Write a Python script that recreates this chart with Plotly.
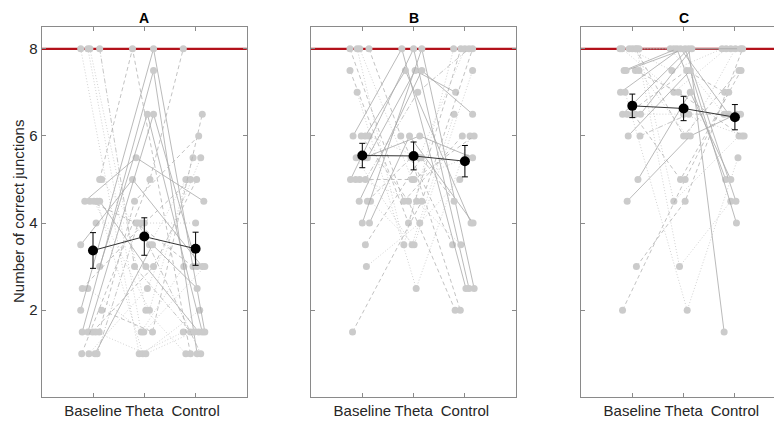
import plotly.graph_objects as go

conditions = ["Baseline", "Theta", "Control"]
panel_titles = ["A", "B", "C"]
y_ticks = [2, 4, 6, 8]
ceiling = 8

# ---- Panel A: individual participants (Baseline, Theta, Control) ----
A_base = [8, 8, 8, 8, 5, 5, 4.5, 4.5, 4.5, 4.5, 4.5, 4, 3.5, 3, 2.5, 2.5, 2, 2, 1.5, 1.5, 1.5, 1.5, 1.5, 1, 1, 1, 1]
A_theta = [1, 1.5, 2, 3, 8, 3.5, 5.5, 4, 2, 1, 3, 4, 5, 6.5, 4, 1.5, 8, 1.5, 7.5, 6.5, 3, 1, 4.5, 5, 2.5, 3.5, 4]
A_ctrl = [1.5, 3, 1, 1.5, 1, 5, 4.5, 3, 5.5, 2, 1.5, 4, 3, 1.5, 5, 3, 1.5, 6.5, 1, 3, 5, 1.5, 6, 8, 5.5, 2.5, 1]
A_jit_base = [-0.24, -0.10, -0.06, 0.13, 0.13, 0.17, -0.16, -0.06, 0.02, 0.08, 0.13, 0.06, -0.24, 0.13, -0.21, -0.10, -0.24, 0.17, -0.21, -0.10, -0.01, 0.05, 0.12, -0.22, -0.08, 0.04, 0.08]
A_jit_theta = [-0.10, -0.06, 0.03, -0.19, -0.23, 0.10, -0.16, -0.16, 0.10, -0.03, 0.03, -0.06, -0.23, 0.06, 0.0, -0.01, 0.18, 0.16, 0.18, 0.18, 0.18, 0.03, -0.19, 0.11, 0.06, 0.16, -0.12]
A_jit_ctrl = [-0.24, -0.23, -0.19, -0.10, -0.10, -0.19, 0.16, -0.05, -0.05, 0.08, 0.06, 0.0, 0.13, 0.13, -0.10, 0.18, 0.18, 0.13, 0.03, 0.03, 0.02, -0.03, 0.06, -0.24, 0.10, 0.03, 0.10]
A_styles = ["o", "o", "o", "x", "d", "o", "s", "d", "o", "o", "s", "o", "s", "s", "d", "o", "s", "d", "s", "s", "d", "o", "d", "d", "o", "s", "x"]
A_mean = [3.37, 3.69, 3.41]
A_err = [0.41, 0.43, 0.38]

# ---- Panel B ----
B_base = [8, 8, 8, 8, 7.5, 7, 6, 6, 6, 6, 5.5, 5.5, 5.5, 5, 5, 5, 5, 4.5, 4.5, 4.5, 4, 4, 3.5, 3, 1.5]
B_theta = [4.5, 3.5, 5, 6, 4, 2.5, 8, 7.5, 5.5, 4.5, 7.5, 3.5, 6, 8, 5, 4.5, 7, 7.5, 5.5, 3.5, 8, 6, 5.5, 4, 4.5]
B_ctrl = [6, 8, 5.5, 3.5, 8, 6, 2.5, 4, 8, 2, 7, 6.5, 5.5, 2.5, 6, 3.5, 8, 6.5, 2, 7.5, 2.5, 4, 4.5, 5, 8]
B_jit_base = [-0.24, -0.10, -0.05, 0.13, -0.24, -0.10, -0.18, 0.06, 0.13, -0.02, 0.10, -0.12, 0.04, -0.23, -0.13, -0.05, 0.06, -0.06, 0.10, 0.16, 0.0, 0.14, 0.06, 0.08, -0.19]
B_jit_theta = [-0.19, -0.19, -0.03, -0.25, -0.10, 0.05, -0.23, -0.16, 0.10, -0.10, 0.03, -0.03, 0.12, 0.0, 0.01, 0.06, 0.08, 0.16, -0.05, 0.01, 0.16, -0.08, 0.15, 0.12, 0.16]
B_jit_ctrl = [-0.05, -0.22, 0.04, -0.24, -0.08, 0.10, 0.02, 0.12, 0.0, -0.19, -0.18, -0.21, 0.15, 0.08, 0.18, -0.08, 0.08, 0.15, -0.09, 0.15, 0.18, 0.16, -0.21, -0.10, 0.15]
B_styles = ["d", "o", "o", "d", "d", "o", "s", "s", "o", "d", "s", "o", "s", "s", "d", "o", "x", "s", "d", "o", "s", "s", "d", "o", "d"]
B_mean = [5.55, 5.54, 5.42]
B_err = [0.28, 0.32, 0.36]

# ---- Panel C ----
C_base = [8, 8, 8, 8, 8, 8, 8, 7.5, 7.5, 7.5, 7.5, 7, 7, 6.5, 6.5, 6.5, 6.5, 6.5, 6, 6, 5, 4.5, 3, 2]
C_theta = [8, 7.5, 8, 6, 4.5, 7, 3, 8, 7, 6, 8, 8, 2, 8, 7.5, 6.5, 8, 5, 7.5, 6.5, 7, 6, 4.5, 5]
C_ctrl = [8, 8, 6.5, 7.5, 6, 8, 4.5, 5, 6, 8, 4.5, 6.5, 5.5, 1.5, 7, 6, 8, 7.5, 4, 6.5, 5, 6.5, 8, 7]
C_jit_base = [-0.24, -0.06, 0.0, 0.06, 0.13, -0.20, 0.09, -0.16, 0.06, 0.13, -0.12, -0.23, -0.14, -0.19, -0.10, 0.06, 0.16, 0.02, -0.08, 0.15, 0.11, -0.10, 0.08, -0.19]
C_jit_theta = [-0.19, -0.23, -0.26, 0.0, -0.19, -0.19, -0.08, -0.13, -0.10, 0.06, 0.03, -0.06, 0.07, 0.10, 0.06, 0.0, 0.16, -0.06, 0.13, 0.10, 0.13, 0.13, 0.03, 0.03]
C_jit_ctrl = [-0.08, -0.25, -0.21, 0.08, 0.08, -0.17, -0.08, -0.18, 0.14, 0.01, 0.02, -0.12, 0.06, -0.21, -0.20, 0.18, 0.11, 0.12, 0.03, 0.11, -0.08, 0.03, 0.15, -0.12]
C_styles = ["s", "o", "o", "d", "o", "o", "o", "s", "d", "o", "s", "s", "o", "s", "d", "o", "s", "d", "s", "x", "s", "s", "d", "d"]
C_mean = [6.69, 6.63, 6.43]
C_err = [0.27, 0.28, 0.29]

panels = [
    (A_base, A_theta, A_ctrl, A_jit_base, A_jit_theta, A_jit_ctrl, A_styles, A_mean, A_err),
    (B_base, B_theta, B_ctrl, B_jit_base, B_jit_theta, B_jit_ctrl, B_styles, B_mean, B_err),
    (C_base, C_theta, C_ctrl, C_jit_base, C_jit_theta, C_jit_ctrl, C_styles, C_mean, C_err),
]

W, H = 774, 421
# panel pixel boxes (left edges); C runs off the right edge of the image
px_unit = 51.3
x_lefts = [41.7, 311.0, 581.0]
y_top, y_bot = 27.0, 397.3

line_style = {
    "s": dict(dash="solid", color="#a8a8a8"),
    "d": dict(dash="4px,3px", color="#b3b3b3"),
    "o": dict(dash="1px,2px", color="#c6c6c6"),
    "x": dict(dash="5px,2px,1px,2px", color="#b8b8b8"),
}

FONT = "Liberation Sans, Arial, sans-serif"
TXT = "#262626"
AX = "#8a8a8a"

fig = go.Figure()
layout = dict(
    width=W, height=H, margin=dict(l=0, r=0, t=0, b=0),
    paper_bgcolor="white", plot_bgcolor="white", showlegend=False,
    font=dict(family=FONT, color=TXT, size=15),
)
annotations = []

for i, (b, t, c, jb, jt, jc, styles, mean, err) in enumerate(panels):
    ax = "" if i == 0 else str(i + 1)
    xref, yref = "x" + ax, "y" + ax
    left = x_lefts[i]
    right = min(left + 4 * px_unit, W)
    xmax = (right - left) / px_unit
    # ceiling line
    fig.add_trace(go.Scatter(x=[0, xmax], y=[ceiling, ceiling], mode="lines",
                             line=dict(color="#b3121b", width=2.2),
                             xaxis=xref, yaxis=yref, hoverinfo="skip"))
    for k in range(len(b)):
        st = line_style[styles[k]]
        fig.add_trace(go.Scatter(
            x=[1 + jb[k], 2 + jt[k], 3 + jc[k]], y=[b[k], t[k], c[k]],
            mode="lines+markers",
            line=dict(color=st["color"], width=0.8, dash=st["dash"]),
            marker=dict(color="#cbcbcb", size=7, line=dict(width=0)),
            xaxis=xref, yaxis=yref, hoverinfo="skip"))
    fig.add_trace(go.Scatter(
        x=[1, 2, 3], y=mean, mode="lines+markers",
        line=dict(color="#333333", width=1),
        marker=dict(color="black", size=10),
        error_y=dict(type="data", array=err, color="black", thickness=1, width=3),
        xaxis=xref, yaxis=yref))
    x0, x1 = left / W, right / W
    layout["xaxis" + ax] = dict(
        domain=[x0, x1], range=[0, xmax], anchor=yref,
        tickvals=[1, 2, 3], ticktext=conditions,
        ticks="inside", ticklen=4, tickcolor=AX,
        showline=True, linecolor=AX, linewidth=1, mirror="ticks",
        showgrid=False, zeroline=False, fixedrange=True,
        tickfont=dict(family=FONT, size=15, color=TXT),
    )
    layout["yaxis" + ax] = dict(
        domain=[1 - y_bot / H, 1 - y_top / H], range=[0, 8.5], anchor=xref,
        tickvals=y_ticks, showticklabels=(i == 0),
        ticks="inside", ticklen=4, tickcolor=AX,
        showline=True, linecolor=AX, linewidth=1,
        mirror=("ticks" if i < 2 else False),
        showgrid=False, zeroline=False, fixedrange=True,
        tickfont=dict(family=FONT, size=15, color=TXT),
    )
    annotations.append(dict(
        text="<b>%s</b>" % panel_titles[i], x=(left + left + 4 * px_unit) / 2 / W, y=1 - 17.5 / H,
        xref="paper", yref="paper", showarrow=False, xanchor="center", yanchor="middle",
        font=dict(family=FONT, size=14, color="black")))

annotations.append(dict(
    text="Number of correct junctions", x=18 / W, y=1 - 212 / H, xref="paper", yref="paper",
    showarrow=False, textangle=-90, xanchor="center", yanchor="middle",
    font=dict(family=FONT, size=15, color=TXT)))
layout["annotations"] = annotations
# white strip hiding anything drawn on the very right image edge (panel C is cut off there)
layout["shapes"] = [dict(type="rect", xref="paper", yref="paper", x0=1 - 1.5 / W, x1=1, y0=0.1, y1=0.88,
                         fillcolor="white", line=dict(width=0), layer="above")]
fig.update_layout(**layout)
fig.write_html("out.html", config={"displayModeBar": False},
               post_script="document.body.style.margin='0';document.body.style.overflow='hidden';")
